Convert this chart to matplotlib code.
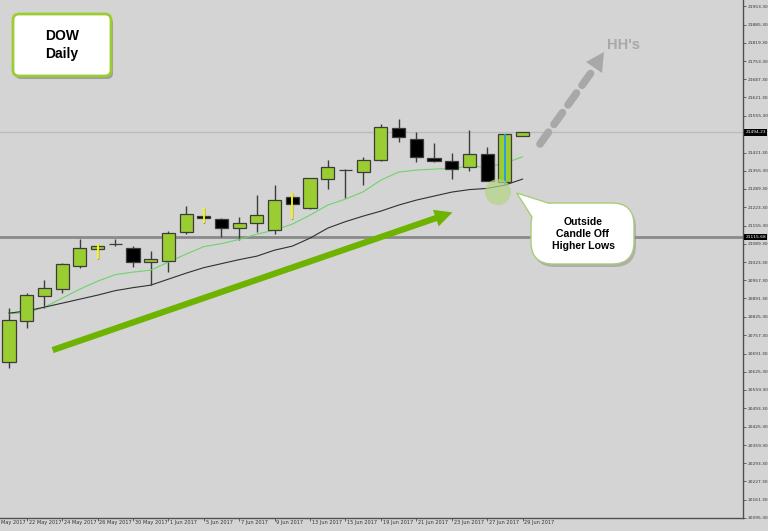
import numpy as np
import matplotlib
matplotlib.use('Agg')
import matplotlib.pyplot as plt
from matplotlib.patches import FancyBboxPatch, Polygon, Circle, Rectangle, FancyArrowPatch

# daily bars, 19 May .. 29 Jun 2017
dates = ['19 May', '22 May', '23 May', '24 May', '25 May', '26 May', '29 May', '30 May',
         '31 May', '1 Jun', '2 Jun', '5 Jun', '6 Jun', '7 Jun', '8 Jun', '9 Jun',
         '12 Jun', '13 Jun', '14 Jun', '15 Jun', '16 Jun', '19 Jun', '20 Jun', '21 Jun',
         '22 Jun', '23 Jun', '26 Jun', '27 Jun', '28 Jun', '29 Jun']
opens = [20661.4, 20809.0, 20899.9, 20924.3, 21007.9, 21072.3, 21088.0, 21075.9,
         21022.5, 21027.2, 21134.1, 21192.3, 21180.0, 21148.6, 21165.4, 21138.8,
         21259.9, 21221.4, 21326.8, 21358.1, 21352.2, 21395.9, 21509.7, 21469.7,
         21403.2, 21390.8, 21369.0, 21417.7, 21314.4, 21480.6]
highs = [20856.3, 20913.0, 20959.6, 21018.8, 21108.6, 21090.4, 21108.6, 21080.6,
         21065.0, 21137.7, 21226.1, 21219.9, 21182.5, 21187.2, 21266.1, 21302.4,
         21274.4, 21329.0, 21393.3, 21360.6, 21405.3, 21524.2, 21541.3, 21496.2,
         21454.1, 21419.9, 21504.9, 21441.7, 21486.8, 21494.5]
lows = [20639.6, 20785.0, 20856.3, 20912.3, 21003.2, 21034.5, 21080.6, 21005.4,
        20938.8, 20987.2, 21126.8, 21165.4, 21114.4, 21105.0, 21132.6, 21126.8,
        21181.4, 21215.2, 21289.0, 21257.7, 21303.5, 21390.8, 21459.9, 21386.1,
        21386.1, 21325.3, 21354.4, 21318.1, 21302.4, 21480.0]
closes = [20814.1, 20905.0, 20930.5, 21016.3, 21075.9, 21081.7, 21088.0, 21025.0,
          21035.9, 21130.5, 21198.1, 21185.0, 21146.1, 21165.4, 21193.4, 21247.9,
          21233.4, 21329.0, 21369.0, 21358.1, 21395.9, 21512.2, 21478.1, 21405.3,
          21390.8, 21361.7, 21417.7, 21318.1, 21486.8, 21494.23]
ma_fast = [20836.1, 20839.0, 20859.8, 20892.4, 20925.1, 20954.2, 20977.9, 20987.0,
           20994.2, 21023.3, 21052.4, 21079.6, 21090.5, 21105.8, 21125.0, 21139.6,
           21161.3, 21194.0, 21230.4, 21252.2, 21278.7, 21321.2, 21350.2, 21357.5,
           21361.1, 21363.7, 21372.0, 21368.4, 21382.9, 21405.8]
ma_slow = [20838.0, 20846.3, 20859.8, 20874.3, 20888.9, 20903.4, 20919.8, 20930.6,
           20939.7, 20961.5, 20983.3, 21003.3, 21017.8, 21032.4, 21045.1, 21066.9,
           21081.4, 21110.5, 21146.8, 21170.4, 21190.4, 21208.6, 21230.4, 21248.5,
           21263.1, 21277.6, 21286.7, 21291.0, 21303.0, 21324.8]
# marked wicks (yellow / blue) on a few bars
marked = {5: '#ffff00', 11: '#ffff00', 16: '#ffff00', 28: '#2196f3'}

# date labels every second bar, first one hangs off the left edge
date_lab_idx = [-1, 1, 3, 5, 7, 9, 11, 13, 15, 17, 19, 21, 23, 25, 27, 29]
date_labs = ['18 May 2017', '22 May 2017', '24 May 2017', '26 May 2017', '30 May 2017',
             '1 Jun 2017', '5 Jun 2017', '7 Jun 2017', '9 Jun 2017', '13 Jun 2017',
             '15 Jun 2017', '19 Jun 2017', '21 Jun 2017', '23 Jun 2017', '27 Jun 2017',
             '29 Jun 2017']
price_ticks = [21953.30, 21885.30, 21819.30, 21753.30, 21687.30, 21621.30,
               21555.30, 21489.30, 21421.30, 21355.30, 21289.30, 21223.30,
               21155.30, 21089.30, 21023.30, 20957.30, 20891.30, 20825.30,
               20757.30, 20691.30, 20625.30, 20559.30, 20493.30, 20425.30,
               20359.30, 20293.30, 20227.30, 20161.30, 20095.30]
last_price = 21494.23
level = 21115.68

bg = '#d4d4d4'
bull = '#9acd32'
edge = '#3c3c3c'

fig = plt.figure(figsize=(7.68, 5.31), dpi=100, facecolor=bg)
ax = fig.add_axes([0, 1 - 518 / 531, 743 / 768, 518 / 531], facecolor=bg)

x = np.arange(len(dates))
w = 0.74
for i in x:
    o, h, l, c = opens[i], highs[i], lows[i], closes[i]
    ax.vlines(i, l, h, color=edge, lw=1, zorder=2)
    lo, hi = min(o, c), max(o, c)
    fc = bull if c > o else ('black' if c < o else edge)
    ax.add_patch(Rectangle((i - w / 2, lo), w, max(hi - lo, 1.5), fc=fc, ec=edge, lw=0.9, zorder=3))
    if i in marked:
        ax.vlines(i, l, h, color=marked[i], lw=1.3, zorder=4)

ax.plot(x, ma_fast, color='#6cd46c', lw=0.8, zorder=2.5)
ax.plot(x, ma_slow, color='#303030', lw=0.8, zorder=2.5)

ax.axhline(last_price, color='#bcbcbc', lw=1, zorder=1)
ax.axhline(level, color='#8a8a8a', lw=2, zorder=1)

for s in ['top', 'left']:
    ax.spines[s].set_visible(False)
for s in ['right', 'bottom']:
    ax.spines[s].set_color('#505050')
    ax.spines[s].set_linewidth(1)

# the 21489.30 label sits under the last-price box
ylabs = ['' if abs(p - last_price) < 10 else f'{p:.2f}' for p in price_ticks]
ax.yaxis.tick_right()
ax.set_yticks(price_ticks, ylabs)
ax.tick_params(axis='y', length=2.5, width=0.6, color='#505050', pad=1,
               labelsize=3.2, labelcolor='#333333')
ax.set_xticks(date_lab_idx, [''] * len(date_lab_idx))
ax.tick_params(axis='x', length=2.5, width=0.6, color='#505050')
for i, lab in zip(date_lab_idx, date_labs):
    ax.annotate(lab, xy=(i, 0), xycoords=('data', 'axes fraction'), xytext=(1.3, -1.5),
                textcoords='offset points', ha='left', va='top', fontsize=3.6,
                color='#333333', annotation_clip=False)

ax.set_xlim(-0.508, 41.45)
ax.set_ylim(20094.3, 21975.1)

for val in [last_price, level]:
    ax.annotate(f'{val:.2f}', xy=(1, val), xycoords=('axes fraction', 'data'),
                xytext=(1.6, 0), textcoords='offset points', ha='left', va='center',
                fontsize=3.2, color='white', annotation_clip=False, zorder=10,
                bbox=dict(boxstyle='square,pad=0.25', fc='black', ec='none'))

# overlay in pixel space for the drawn-on annotations
ov = fig.add_axes([0, 0, 1, 1], facecolor='none')
ov.set_xlim(0, 768)
ov.set_ylim(531, 0)
ov.axis('off')

# trend arrow
ov.add_patch(FancyArrowPatch((50, 351), (455, 211.5),
                             arrowstyle='simple,head_length=1.4,head_width=1.4,tail_width=0.5',
                             mutation_scale=9, fc='#6db300', ec='none'))
# HH's dashed arrow
ov.plot([540, 593], [144, 70], color='#a8a8a8', lw=5.5, dashes=(1.9, 1.25),
        dash_capstyle='round')
ov.add_patch(Polygon([(604, 52), (586, 62), (602, 73)], closed=True, fc='#a8a8a8', ec='none'))
ov.text(624, 45, "HH's", fontsize=10.5, fontweight='bold', color='#a8a8a8', ha='center',
        va='center', family='Liberation Sans')

# circle at the low
ov.add_patch(Circle((498, 192), 13, fc='#b4d484', ec='none', alpha=0.7, zorder=5))

# DOW box
ov.add_patch(FancyBboxPatch((15, 17), 98, 62, boxstyle='round,pad=0,rounding_size=6',
                            fc='#7a7a7a', ec='none', alpha=0.6))
ov.add_patch(FancyBboxPatch((13, 14), 98, 62, boxstyle='round,pad=0,rounding_size=6',
                            fc='white', ec='#9acd32', lw=2))
ov.text(62, 45, 'DOW\nDaily', fontsize=10, fontweight='bold', ha='center', va='center',
        linespacing=1.35, family='Liberation Sans')

# callout bubble
green_edge = '#a9cc78'
ov.add_patch(FancyBboxPatch((533, 206), 103, 61, boxstyle='round,pad=0,rounding_size=22',
                            fc='#8a8a8a', ec='none', alpha=0.5, zorder=6))
ov.add_patch(FancyBboxPatch((531, 203), 103, 61, boxstyle='round,pad=0,rounding_size=22',
                            fc='white', ec=green_edge, lw=1, zorder=7))
ov.add_patch(Polygon([(532.3, 217.5), (516.7, 193), (549.2, 203.3)], closed=False,
                     fc='white', ec=green_edge, lw=1, zorder=8))
ov.text(583, 234, 'Outside\nCandle Off\nHigher Lows', fontsize=7.6, fontweight='bold',
        ha='center', va='center', linespacing=1.25, family='Liberation Sans', zorder=9)

fig.savefig('out.png', dpi=100, facecolor=bg)
